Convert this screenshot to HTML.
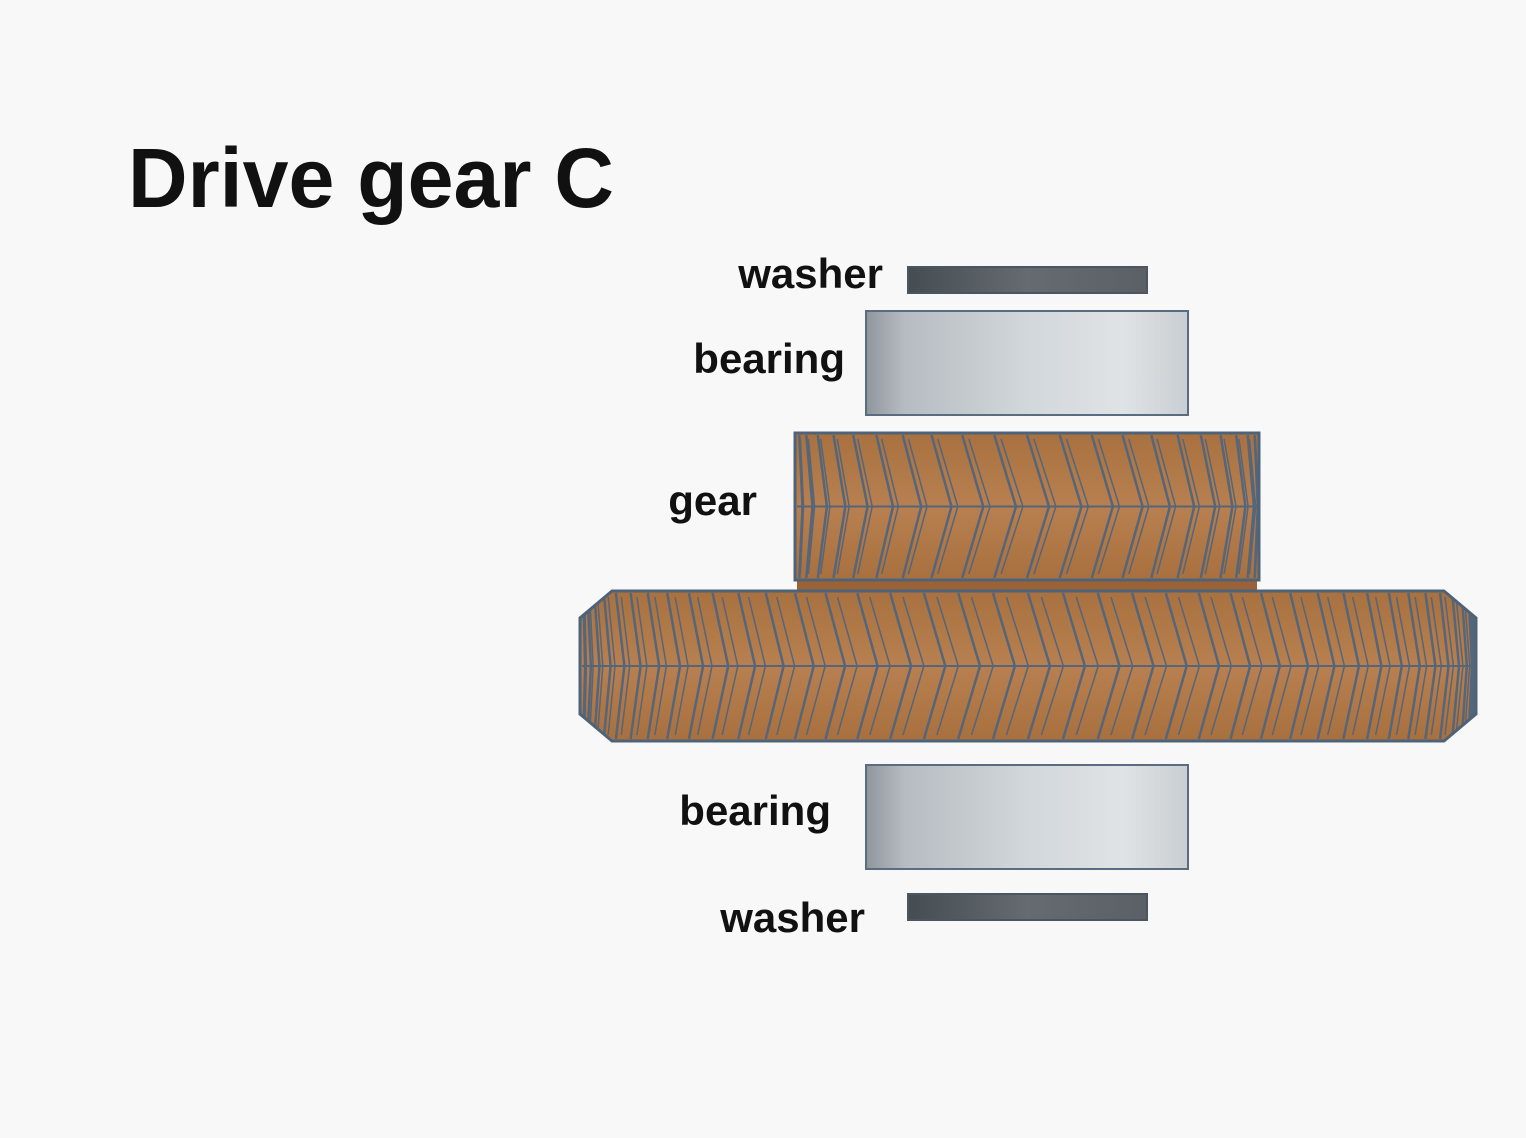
<!DOCTYPE html>
<html><head><meta charset="utf-8"><style>
html,body{margin:0;padding:0;background:#f8f8f8;width:1526px;height:1138px;overflow:hidden}
svg{position:absolute;left:0;top:0}
text{font-family:"Liberation Sans",sans-serif;font-weight:bold;fill:#111}
</style></head><body>
<svg id="s" width="1526" height="1138" viewBox="0 0 1526 1138" xmlns="http://www.w3.org/2000/svg">
<defs>
<linearGradient id="br" x1="0" x2="1" y1="0" y2="0">
<stop offset="0" stop-color="#8f969c"/><stop offset="0.12" stop-color="#b6bcc1"/><stop offset="0.5" stop-color="#d2d7db"/><stop offset="0.8" stop-color="#dfe3e6"/><stop offset="1" stop-color="#c9ced2"/>
</linearGradient>
<linearGradient id="wa" x1="0" x2="1"><stop offset="0" stop-color="#454c52"/><stop offset="0.5" stop-color="#656b71"/><stop offset="1" stop-color="#5a6066"/></linearGradient>
<linearGradient id="gd" x1="0" x2="0" y1="0" y2="1"><stop offset="0" stop-color="#a8713f"/><stop offset="0.5" stop-color="#b88050"/><stop offset="1" stop-color="#a8703e"/></linearGradient>
<clipPath id="c1"><rect x="795" y="433" width="464" height="147"/></clipPath>
<clipPath id="c2"><polygon points="612,591 1444,591 1476,618 1476,714 1444,741 612,741 580,714 580,618"/></clipPath>
</defs>
<text x="128" y="207" font-size="84" textLength="486" lengthAdjust="spacingAndGlyphs">Drive gear C</text>
<text x="883" y="288" font-size="42" text-anchor="end">washer</text>
<text x="845" y="373" font-size="42" text-anchor="end">bearing</text>
<text x="757" y="515" font-size="42" text-anchor="end">gear</text>
<text x="831" y="825" font-size="42" text-anchor="end">bearing</text>
<text x="865" y="932" font-size="42" text-anchor="end">washer</text>
<rect x="908" y="267" width="239" height="26" fill="url(#wa)" stroke="#4b5660" stroke-width="2"/>
<rect x="866" y="311" width="322" height="104" fill="url(#br)" stroke="#5a6c80" stroke-width="2"/>
<rect x="866" y="765" width="322" height="104" fill="url(#br)" stroke="#5a6c80" stroke-width="2"/>
<rect x="908" y="894" width="239" height="26" fill="url(#wa)" stroke="#4b5660" stroke-width="2"/>
<rect x="797" y="578" width="460" height="16" fill="#9a6236"/>
<rect x="795" y="433" width="464" height="147" fill="url(#gd)"/>
<polygon points="612,591 1444,591 1476,618 1476,714 1444,741 612,741 580,714 580,618" fill="url(#gd)"/>
<g id="t1" clip-path="url(#c1)" fill="none" stroke="#55657a" stroke-width="2.5"></g>
<g id="t2" clip-path="url(#c2)" fill="none" stroke="#55657a" stroke-width="2.5"></g>
<rect x="795" y="433" width="464" height="147" fill="none" stroke="#4f6378" stroke-width="3"/>
<polygon points="612,591 1444,591 1476,618 1476,714 1444,741 612,741 580,714 580,618" fill="none" stroke="#4f6378" stroke-width="3"/>
</svg>
<script>
function gear(id,x0,x1,top,bot,n,off){var h='';var cx=(x0+x1)/2,R=(x1-x0)/2,mid=(top+bot)/2;
for(var i=1;i<n;i++){var t=Math.PI*i/n;var x=cx-R*Math.cos(t);var d=off*Math.sin(t);
h+='<path d="M'+x.toFixed(1)+' '+top+' L'+(x+d).toFixed(1)+' '+mid+' L'+x.toFixed(1)+' '+bot+'"/>';
var x2=cx-R*Math.cos(t+0.03);h+='<path stroke-width="1.5" d="M'+x2.toFixed(1)+' '+(top+4)+' L'+(x2+d).toFixed(1)+' '+mid+' L'+x2.toFixed(1)+' '+(bot-4)+'"/>';}
h+='<line x1="'+x0+'" y1="'+mid+'" x2="'+x1+'" y2="'+mid+'" stroke-width="2"/>';
document.getElementById(id).innerHTML=h;}
gear('t1',797,1257,435,578,22,22);
gear('t2',582,1474,593,739,40,22);
</script>
</body></html>
